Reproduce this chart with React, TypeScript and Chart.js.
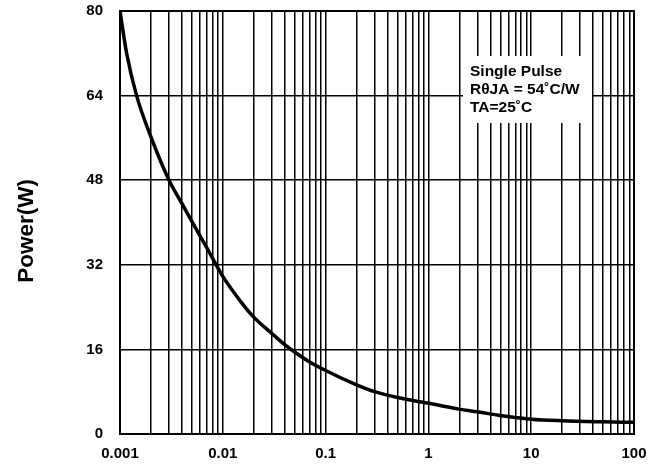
import React, { useEffect, useRef } from "react";
import { Chart, registerables } from "chart.js";

Chart.register(...registerables);

const pulseTimes = [0.001, 0.00116, 0.00145, 0.002, 0.003, 0.004, 0.005, 0.007, 0.01, 0.015, 0.02, 0.03, 0.04, 0.05, 0.07, 0.1, 0.2, 0.3, 0.5, 1, 2, 3, 5, 10, 20, 50, 100];
const powerValues = [80, 72, 64, 56.2, 48, 43.6, 40.2, 35.2, 29.8, 25.0, 22.1, 19.0, 16.9, 15.5, 13.6, 12.0, 9.3, 8.0, 6.9, 5.8, 4.7, 4.2, 3.5, 2.8, 2.5, 2.3, 2.2];
const xDecades = [0.001, 0.01, 0.1, 1, 10];
const xMinorSteps = [1, 2, 3, 4, 5, 6, 7, 8, 9];
const xLabelValues = [0.001, 0.01, 0.1, 1, 10, 100];
const yTickValues = [0, 16, 32, 48, 64, 80];
const noteLines = ["Single Pulse", "RθJA = 54˚C/W", "TA=25˚C"];
const yTitle = "Power(W)";

const FONT = "'Liberation Sans', Arial, sans-serif";

export default function App() {
  const ref = useRef<HTMLCanvasElement | null>(null);

  useEffect(() => {
    const canvas = ref.current;
    if (!canvas) return;

    const xGridValues: number[] = [];
    xDecades.forEach((d) => xMinorSteps.forEach((m) => xGridValues.push(+(d * m).toPrecision(6))));
    xGridValues.push(100);

    const overlay = {
      id: "overlay",
      afterDatasetsDraw(chart: any) {
        const { ctx, chartArea } = chart;
        ctx.save();
        ctx.strokeStyle = "#000";
        ctx.lineWidth = 2;
        ctx.strokeRect(chartArea.left, chartArea.top, chartArea.right - chartArea.left, chartArea.bottom - chartArea.top);
        ctx.fillStyle = "#fff";
        ctx.fillRect(463, 56, 129, 67);
        ctx.fillStyle = "#000";
        ctx.font = `bold 15.5px ${FONT}`;
        ctx.textAlign = "left";
        ctx.textBaseline = "middle";
        noteLines.forEach((t, i) => ctx.fillText(t, 470, 72 + i * 18));
        ctx.translate(27, 231);
        ctx.rotate(-Math.PI / 2);
        ctx.textAlign = "center";
        ctx.font = `bold 22.5px ${FONT}`;
        ctx.fillText(yTitle, 0, 0);
        ctx.restore();
      },
    };

    const chart = new Chart(canvas, {
      type: "line",
      data: {
        datasets: [
          {
            data: pulseTimes.map((x, i) => ({ x, y: powerValues[i] })),
            borderColor: "#000",
            borderWidth: 3.5,
            pointRadius: 0,
            fill: false,
            cubicInterpolationMode: "monotone",
          },
        ],
      },
      options: {
        responsive: false,
        animation: false,
        events: [],
        layout: { padding: { left: 0, right: 28, top: 11, bottom: 0 } },
        plugins: { legend: { display: false }, tooltip: { enabled: false } },
        scales: {
          x: {
            type: "logarithmic",
            min: 0.001,
            max: 100,
            afterBuildTicks: (scale: any) => {
              scale.ticks = xGridValues.map((v) => ({ value: v }));
            },
            afterFit: (scale: any) => {
              scale.height = 30;
            },
            grid: { color: "#000", lineWidth: 1.5, drawTicks: true, tickLength: 11, tickColor: "rgba(0,0,0,0)" },
            border: { color: "#000", width: 2 },
            ticks: {
              autoSkip: false,
              maxRotation: 0,
              padding: 0,
              color: "#000",
              font: { family: FONT, size: 15, weight: "bold" },
              callback: (v: any) => {
                const n = Number(v);
                const hit = xLabelValues.find((l) => Math.abs(l - n) / l < 1e-6);
                return hit !== undefined ? String(hit) : "";
              },
            },
          },
          y: {
            min: 0,
            max: 80,
            afterBuildTicks: (scale: any) => {
              scale.ticks = yTickValues.map((v) => ({ value: v }));
            },
            afterFit: (scale: any) => {
              scale.width = 120;
            },
            grid: { color: "#000", lineWidth: 1.5, drawTicks: true, tickLength: 17, tickColor: "rgba(0,0,0,0)" },
            border: { color: "#000", width: 2 },
            ticks: {
              padding: 0,
              color: "#000",
              font: { family: FONT, size: 15, weight: "bold" },
            },
          },
        },
      },
      plugins: [overlay],
    } as any);

    return () => chart.destroy();
  }, []);

  return (
    <div style={{ position: "fixed", left: 0, top: 0, width: 662, height: 464, background: "#fff" }}>
      <canvas ref={ref} width={662} height={464} style={{ display: "block" }} />
    </div>
  );
}
